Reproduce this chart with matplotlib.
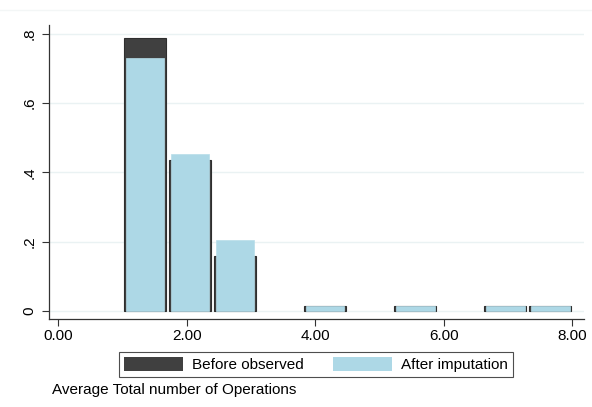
import matplotlib.pyplot as plt
from matplotlib.lines import Line2D
import numpy as np

plt.rcParams["font.family"] = ["Liberation Sans", "DejaVu Sans"]

# histogram bins: width 0.7 starting at 1.0
bin_left = [1.0, 1.7, 2.4, 3.1, 3.8, 4.5, 5.2, 5.9, 6.6, 7.3]
bin_width = 0.7
before_observed = [0.789, 0.435, 0.158, 0.0, 0.0125, 0.0, 0.0125, 0.0, 0.0125, 0.0125]
after_imputation = [0.730, 0.454, 0.203, 0.0, 0.0125, 0.0, 0.0125, 0.0, 0.0125, 0.0125]

x_ticks = [0, 2, 4, 6, 8]
x_tick_labels = ["0.00", "2.00", "4.00", "6.00", "8.00"]
y_ticks = [0, 0.2, 0.4, 0.6, 0.8]
y_tick_labels = ["0", ".2", ".4", ".6", ".8"]

fig = plt.figure(figsize=(5.92, 4.07), dpi=100)
ax = fig.add_axes([0.0828, 0.2162, 0.9037, 0.7224])

centers = np.array(bin_left) + bin_width / 2
before = np.array(before_observed)
after = np.array(after_imputation)
keep_b = before > 0
keep_a = after > 0

ax.bar(centers[keep_b], before[keep_b], width=0.65, color="#404040",
       edgecolor="#2e2e2e", linewidth=0.8, zorder=2, label="Before observed")
ax.bar(centers[keep_a] + 0.005, after[keep_a], width=0.6, color="#add8e6",
       edgecolor="#b7dde9", linewidth=0.5, zorder=3, label="After imputation")

ax.set_xlim(-0.14, 8.18)
ax.set_ylim(-0.024, 0.826)
ax.set_xticks(x_ticks)
ax.set_xticklabels(x_tick_labels, fontsize=11)
ax.set_yticks(y_ticks)
ax.set_yticklabels(y_tick_labels, fontsize=11, rotation=90, va="center")
ax.tick_params(axis="both", direction="out", length=5, width=0.8, color="#333333")
ax.tick_params(axis="x", pad=2)
ax.tick_params(axis="y", pad=4)

for y in y_ticks:
    ax.axhline(y, color="#eaf2f3", linewidth=1.0, zorder=1)

for side in ["top", "right"]:
    ax.spines[side].set_visible(False)
for side in ["left", "bottom"]:
    ax.spines[side].set_color("#333333")
    ax.spines[side].set_linewidth(0.9)

leg = fig.legend(loc="center", bbox_to_anchor=(0.534, 0.1044), ncol=2,
                 fontsize=11, frameon=True, fancybox=False, handlelength=3.85,
                 handleheight=1.0, columnspacing=1.95, handletextpad=0.6,
                 borderpad=0.3, borderaxespad=0)
leg.get_frame().set_edgecolor("#222222")
leg.get_frame().set_linewidth(0.8)
for h in leg.legend_handles:
    h.set_edgecolor("none")

fig.text(0.088, 0.042, "Average Total number of Operations", fontsize=11,
         ha="left", va="center")

fig.add_artist(Line2D([0, 1], [0.975, 0.975], transform=fig.transFigure,
                      color="#f3f6f6", linewidth=1.0))

fig.savefig("out.png", dpi=100)
plt.close(fig)
